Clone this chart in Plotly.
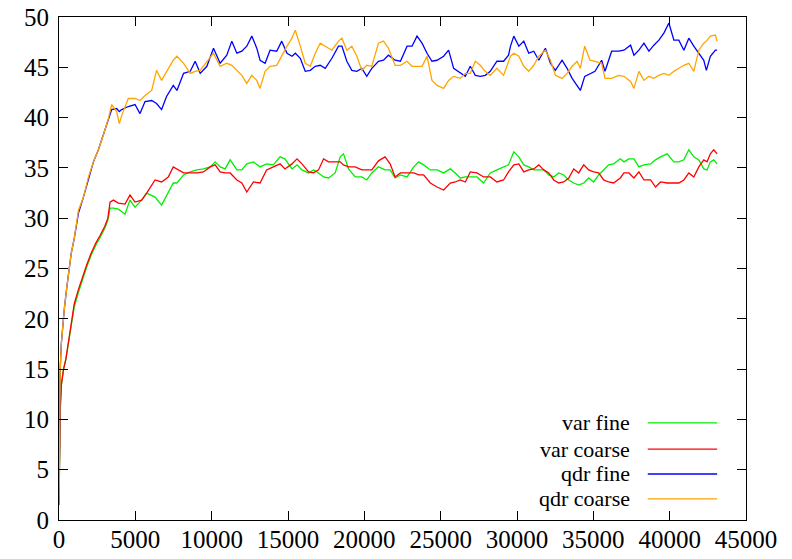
import plotly.graph_objects as go

# ---------------- data ----------------
x_qdr = [0, 30, 80, 150, 250, 350, 500, 650, 800, 1000, 1275, 1600, 1930, 2255, 2580, 2910,
         3235, 3450, 3780, 3950, 4105, 4540, 4980, 5305, 5635, 6070, 6390, 6720, 7045, 7485,
         7725, 8160, 8595, 8920, 9250, 9685, 10120, 10555, 10990, 11320, 11650, 11975, 12300,
         12630, 12955, 13170, 13500, 13825, 14260, 14590,
         14935, 15260, 15480, 15805, 16130, 16460, 16785, 17110, 17440, 17875, 18310, 18530,
         18855, 19180, 19510, 19835, 20160, 20490, 20925, 21255, 21580, 22015,
         22365, 22800, 23125, 23450, 23780, 24105, 24430, 24760, 25195, 25520, 25850, 26285,
         26615, 26940, 27270, 27595, 27920, 28250, 28685, 29120, 29445,
         29575, 29790, 30120, 30445, 30770, 31100, 31425, 31860, 32190, 32515, 32950, 33280,
         33610, 33935, 34150, 34435, 34785, 35110, 35545, 35765, 36200, 36655,
         37005, 37440, 37660, 37985, 38315, 38640, 38965, 39295, 39620, 39950, 40275, 40600,
         40930, 41255, 41580, 41910, 42235, 42405, 42665, 42995, 43105]

qdr_fine = [1.5, 12, 15, 17.5, 19.5, 21, 23, 25, 26.5, 28, 30.5, 32.1, 34.0, 35.6, 36.8, 38.3,
            39.9, 40.8, 40.9, 40.6, 40.8, 41.1, 41.3, 40.4, 41.6, 41.7, 41.4, 40.8, 42.1, 43.2,
            42.7, 44.4, 44.6, 45.6, 44.4, 45.1, 46.9, 45.4, 46.2, 47.6, 46.4, 46.6, 47.1,
            48.1, 46.9, 45.7, 45.4, 46.7, 46.6, 47.6,
            46.4, 46.1, 46.4, 45.9, 44.6, 44.7, 45.1, 45.2, 44.9, 45.9, 47.1, 47.1,
            45.6, 44.7, 44.6, 44.9, 44.1, 44.9, 45.6, 45.7, 46.2, 45.7,
            45.6, 47.1, 47.1, 48.1, 47.4, 46.4, 45.6, 45.7, 46.1, 46.7, 44.9, 44.4,
            44.1, 45.1, 44.2, 44.1, 44.2, 44.6, 45.6, 45.6, 46.2,
            47.1, 48.1, 47.1, 47.6, 46.4, 46.6, 45.7, 46.9, 45.4, 44.7, 45.7, 44.9,
            43.9, 43.1, 42.7, 44.1, 44.4, 44.6, 45.7, 44.6, 46.6, 46.6,
            46.7, 47.2, 46.2, 46.7, 47.4, 46.6, 47.2, 47.7, 48.4, 49.4, 47.7, 47.7,
            46.7, 47.9, 47.1, 46.4, 45.7, 44.7, 46.1, 46.7, 46.7]

qdr_coarse = [1.5, 12, 15, 17.5, 19.5, 21, 23, 25, 26.5, 28, 30.8, 32.1, 34.1, 35.6, 36.8, 38.3,
              39.9, 41.3, 40.6, 39.4, 40.2, 41.9, 41.9, 41.7, 42.2, 42.7, 44.7, 43.7, 44.6, 45.7,
              46.1, 45.4, 44.4, 44.6, 44.7, 45.6, 46.4, 45.1, 45.4, 45.2, 44.7, 44.2, 43.4,
              44.2, 43.7, 42.9, 44.6, 45.1, 45.2, 46.2,
              47.1, 47.9, 48.7, 47.1, 45.4, 45.1, 46.4, 47.4, 47.1, 46.7, 47.6, 47.9,
              46.7, 47.1, 46.1, 44.7, 45.2, 45.1, 47.4, 47.6, 46.9, 45.2,
              45.2, 45.6, 45.1, 45.1, 45.1, 46.1, 43.7, 43.2, 42.9, 43.7, 44.1, 43.9,
              44.4, 44.4, 45.6, 45.2, 44.6, 44.2, 44.9, 44.2, 45.6,
              46.1, 46.4, 46.1, 45.1, 44.6, 45.2, 46.1, 46.7, 45.7, 44.2, 43.9, 44.4,
              45.1, 45.6, 44.9, 47.1, 45.7, 45.6, 45.4, 43.9, 43.9, 44.2,
              44.1, 43.6, 42.9, 44.6, 43.7, 44.1, 43.9, 44.2, 44.4, 44.2, 44.6, 44.9,
              45.2, 45.4, 44.6, 46.7, 47.4, 47.6, 48.1, 48.2, 47.6]

x_var = [0, 30, 80, 160, 300, 450, 600, 800, 1000, 1250, 1500, 1800, 2100, 2400, 2700, 3000,
         3200, 3345, 3560, 3890, 4325, 4650, 4980, 5413, 5740, 6290, 6720, 7157, 7485,
         7725, 8160, 8595, 9030, 9465, 9900, 10230, 10555, 10880, 11210, 11650, 11975, 12300,
         12735, 13170, 13600, 14040, 14480, 14800,
         15260, 15590, 15915, 16350, 16675, 17000, 17330, 17655, 18090, 18420, 18635, 18965,
         19400, 19835, 20160, 20490, 20925, 21360, 21690, 22015,
         22365, 22800, 23235, 23560, 23885, 24320, 24760, 25195, 25630, 25955, 26285, 26615,
         26940, 27375, 27810, 28250, 28685, 29120, 29445,
         29790, 30120, 30445, 30770, 31100, 31425, 31750, 32080, 32405, 32735, 33060, 33390,
         33715, 34040, 34370, 34700, 35020, 35350, 35675, 36000, 36330, 36765,
         37005, 37330, 37660, 37985, 38315, 38750, 39075, 39400, 39835, 40275, 40600, 40930,
         41255, 41580, 41910, 42235, 42450, 42665, 42885, 43105]

var_fine = [1.5, 8, 11, 13.5, 15, 16, 17.3, 19.2, 21.2, 22.5, 23.8, 25.1, 26.3, 27.3, 28.1, 29.0,
            29.8, 31.0, 31.0, 30.9, 30.4, 31.8, 31.1, 31.8, 32.5, 32.1, 31.3, 32.6, 33.5,
            33.5, 34.3, 34.6, 34.8, 34.9, 35.1, 35.6, 35.1, 34.9, 35.8, 34.8, 34.8, 35.4,
            35.6, 35.1, 35.4, 35.3, 36.1, 35.9,
            34.9, 35.3, 34.8, 34.5, 34.8, 34.5, 34.1, 34.0, 34.5, 36.1, 36.4, 34.9,
            34.1, 34.1, 33.8, 34.5, 35.1, 34.8, 34.8, 34.0,
            34.3, 34.1, 35.1, 35.6, 35.3, 34.8, 34.8, 34.5, 34.9, 34.5, 34.0, 34.1,
            34.1, 34.1, 33.5, 34.5, 34.8, 35.1, 35.3,
            36.6, 36.1, 35.3, 35.1, 34.8, 34.8, 34.8, 34.3, 34.1, 34.5, 34.3, 33.8,
            33.5, 33.3, 33.5, 34.0, 33.6, 34.3, 34.8, 35.3, 35.4, 35.9,
            35.6, 35.9, 35.9, 35.1, 35.3, 35.4, 35.8, 36.1, 36.4, 35.6, 35.6, 35.8,
            36.8, 36.1, 35.8, 34.9, 34.8, 35.6, 35.8, 35.4]

var_coarse = [1.5, 8, 11, 13.5, 15, 16, 17.5, 19.5, 21.5, 22.8, 24, 25.3, 26.5, 27.5, 28.3, 29.2,
              30.0, 31.6, 31.8, 31.5, 31.4, 32.3, 31.6, 31.8, 32.5, 33.8, 33.6, 34.1, 35.1,
              34.9, 34.5, 34.5, 34.5, 34.6, 35.1, 35.3, 34.6, 34.5, 34.5, 33.8, 33.5, 32.6,
              33.6, 33.5, 34.8, 35.1, 35.4, 34.9,
              35.4, 35.9, 35.4, 34.6, 34.5, 34.8, 35.9, 35.6, 35.6, 35.6, 35.3, 35.1,
              35.1, 34.8, 34.8, 34.8, 35.7, 36.1, 35.4, 34.1,
              34.5, 34.5, 34.5, 34.3, 34.3, 33.5, 33.1, 32.8, 33.5, 33.6, 33.8, 33.6,
              34.6, 34.5, 34.1, 34.1, 33.6, 33.8, 34.6,
              35.3, 35.4, 34.6, 34.8, 34.9, 35.3, 34.8, 34.5, 33.8, 33.5, 33.6, 34.0,
              34.9, 34.5, 35.3, 34.8, 34.6, 34.5, 33.8, 33.6, 33.5, 34.0,
              34.5, 34.5, 34.0, 34.6, 33.8, 33.8, 33.1, 33.6, 33.5, 33.5, 33.5, 33.8,
              34.5, 34.1, 35.1, 35.8, 35.6, 36.4, 36.8, 36.4]

series_names = ["var fine", "var coarse", "qdr fine", "qdr coarse"]
series_colors = ["#00ee00", "#ff0000", "#0000ff", "#ffa500"]
x_ticks = [0, 5000, 10000, 15000, 20000, 25000, 30000, 35000, 40000, 45000]
y_ticks = [0, 5, 10, 15, 20, 25, 30, 35, 40, 45, 50]

# ---------------- figure ----------------
FONT = "Liberation Serif, Times New Roman, serif"
xs = [x_var, x_var, x_qdr, x_qdr]
ys = [var_fine, var_coarse, qdr_fine, qdr_coarse]

fig = go.Figure()
for name, col, xv, yv in zip(series_names, series_colors, xs, ys):
    fig.add_trace(go.Scatter(x=xv, y=yv, mode="lines", name=name,
                             line=dict(color=col, width=1.3), showlegend=False))

axis_common = dict(showline=True, linecolor="black", linewidth=1, mirror="ticks",
                   ticks="inside", ticklen=9, tickcolor="black", showgrid=False,
                   zeroline=False, automargin=False,
                   tickfont=dict(family=FONT, size=25, color="black"))
fig.update_xaxes(range=[0, 45000], tickvals=x_ticks, ticktext=[str(v) for v in x_ticks],
                 ticklabelstandoff=-3, **axis_common)
fig.update_yaxes(range=[0, 50], tickvals=y_ticks, ticktext=[str(v) for v in y_ticks],
                 ticklabelstandoff=4, **axis_common)

# gnuplot-style key: label on the left, line sample on the right
row_y = [0.193, 0.141, 0.0915, 0.0418]
for name, col, ry in zip(series_names, series_colors, row_y):
    fig.add_annotation(x=0.834, y=ry, xref="paper", yref="paper", text=name,
                       showarrow=False, xanchor="right", yanchor="middle",
                       font=dict(family=FONT, size=22, color="black"))
    fig.add_shape(type="line", xref="paper", yref="paper", x0=0.857, x1=0.958,
                  y0=ry, y1=ry, line=dict(color=col, width=1.3))

fig.update_layout(width=792, height=559, margin=dict(l=59, r=46, t=17, b=39),
                  paper_bgcolor="white", plot_bgcolor="white", showlegend=False)

fig.write_html("out.html", config={"displayModeBar": False},
               post_script="document.body.style.margin='0';document.body.style.overflow='hidden';")
